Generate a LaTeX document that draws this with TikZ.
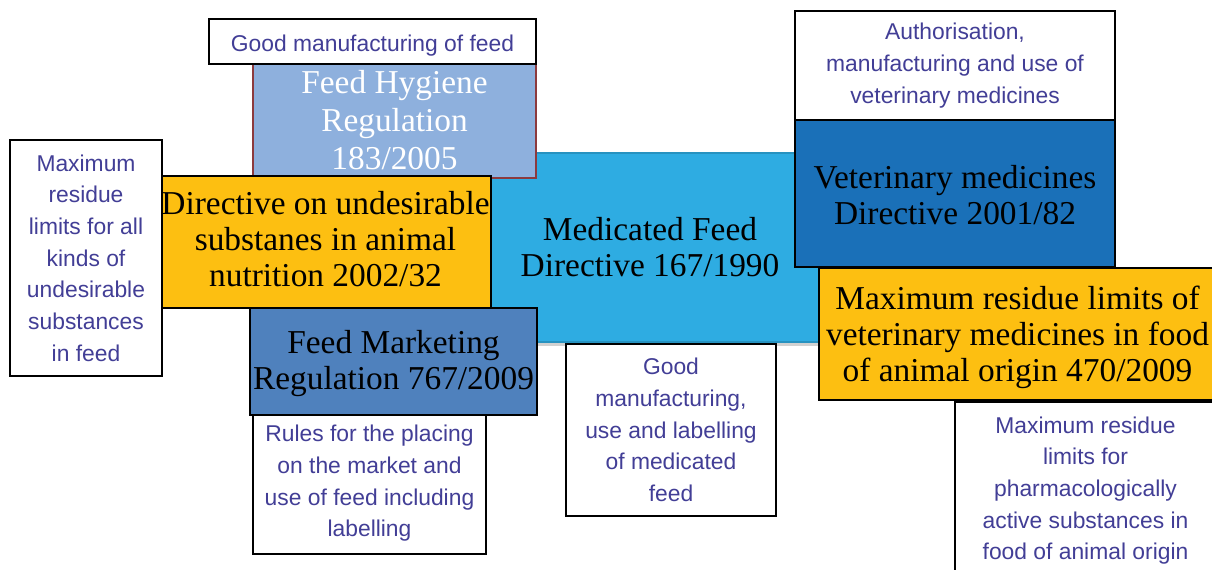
\documentclass[tikz,border=0pt]{standalone}
\usepackage{fontspec}
\setmainfont{Liberation Serif}
\setsansfont{Liberation Sans}
\usetikzlibrary{fit}

\definecolor{medblue}{RGB}{46,172,226}
\definecolor{hygblue}{RGB}{142,176,221}
\definecolor{hygred}{RGB}{140,58,62}
\definecolor{dirgold}{RGB}{253,191,17}
\definecolor{mktblue}{RGB}{79,129,189}
\definecolor{vetblue}{RGB}{26,112,184}
\definecolor{noteink}{RGB}{66,62,150}

\begin{document}
\begin{tikzpicture}[x=0.02cm,y=-0.02cm,
  box/.style={draw=black,line width=1.6pt,inner sep=0pt},
  note/.style={box,fill=white},
  notetext/.style={inner sep=0pt,align=center,text=noteink,font=\sffamily\fontsize{13}{18}\selectfont},
  lawtext/.style={inner sep=0pt,align=center,text=black,font=\fontsize{19}{20.5}\selectfont}]
\useasboundingbox (0,0) rectangle (1212,570);

% centre block
\fill[black!18] (480,342) rectangle (822,346);
\node[box,fill=medblue,draw=medblue!85!black,line width=0.6pt,fit={(478,153) (822,342)}] (medfeed) {};
\node[lawtext] (medfeed text) at (medfeed.center) {Medicated Feed\\Directive 167/1990};

% left side
\node[box,fill=hygblue,draw=hygred,line width=1.1pt,fit={(253,62) (536,178)}] (hygiene) {};
\node[lawtext,text=white] (hygiene text) at (hygiene.center)
  {Feed Hygiene\\[1pt]Regulation\\[1pt]183/2005};
\node[note,fit={(209,19) (536,64)}] (hygnote) {};
\node[notetext] (hygnote text) at ([yshift=-2.5pt]hygnote.center) {Good manufacturing of feed};
\node[box,fill=dirgold,fit={(160,176) (491,308)}] (undesirable) {};
\node[lawtext] (undesirable text) at ([yshift=1.5pt]undesirable.center)
  {Directive on undesirable\\substanes in animal\\nutrition 2002/32};
\node[note,fit={(10,140) (162,376)}] (undesnote) {};
\node[notetext] (undesnote text) at (undesnote.center)
  {Maximum\\residue\\limits for all\\kinds of\\undesirable\\substances\\in feed};
\node[note,fit={(253,413) (486,554)}] (mktnote) {};
\node[notetext] (mktnote text) at (mktnote.center)
  {Rules for the placing\\on the market and\\use of feed including\\labelling};
\node[box,fill=mktblue,fit={(250,308) (537,415)}] (marketing) {};
\node[lawtext] (marketing text) at ([yshift=-1pt]marketing.center)
  {Feed Marketing\\Regulation 767/2009};

% below the centre
\node[note,fit={(566,344) (776,516)}] (mednote) {};
\node[notetext] (mednote text) at (mednote.center)
  {Good\\manufacturing,\\use and labelling\\of medicated\\feed};

% right side
\node[box,fill=vetblue,fit={(795,120) (1115,267)}] (vetmed) {};
\node[lawtext] (vetmed text) at ([yshift=-1pt]vetmed.center)
  {Veterinary medicines\\Directive 2001/82};
\node[note,fit={(795,11) (1115,120)}] (vetnote) {};
\node[notetext] (vetnote text) at (vetnote.center)
  {Authorisation,\\manufacturing and use of\\veterinary medicines};
\node[note,fit={(955,402) (1216,574)}] (mrlnote) {};
\node[notetext] (mrlnote text) at ([yshift=-1.5pt]mrlnote.center)
  {Maximum residue\\limits for\\pharmacologically\\active substances in\\food of animal origin};
\node[box,fill=dirgold,fit={(819,268) (1216,400)}] (mrl) {};
\node[lawtext] (mrl text) at ([yshift=-2pt]mrl.center)
  {Maximum residue limits of\\veterinary medicines in food\\of animal origin 470/2009};
\end{tikzpicture}
\end{document}
